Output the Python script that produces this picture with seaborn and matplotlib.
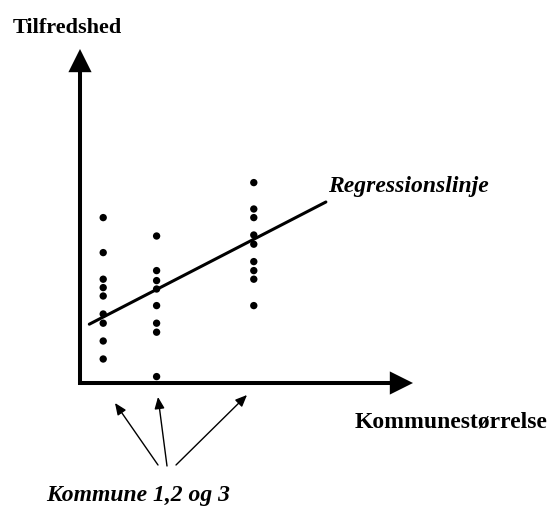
import numpy as np
import pandas as pd
import seaborn as sns
import matplotlib.pyplot as plt

# Kommunestørrelse for de tre kommuner (vilkårlig enhed)
kommune_size = [1.0, 2.0, 3.82]

# Tilfredshed for respondenter i hver kommune
tilfreds_k1 = [8.27, 6.52, 5.19, 4.77, 4.35, 3.45, 2.99, 2.10, 1.20]
tilfreds_k2 = [7.35, 5.62, 5.12, 4.70, 3.87, 2.99, 2.54, 0.32]
tilfreds_k3 = [10.02, 8.70, 8.27, 7.40, 6.94, 6.07, 5.62, 5.19, 3.87]

# Regressionslinjens endepunkter
reg_x = [0.74, 5.17]
reg_y = [2.94, 9.05]

rows = []
for size, vals in zip(kommune_size, [tilfreds_k1, tilfreds_k2, tilfreds_k3]):
    for v in vals:
        rows.append({"size": size, "tilfreds": v})
df = pd.DataFrame(rows)
reg = pd.DataFrame({"x": reg_x, "y": reg_y})

sns.set_style("white")
plt.rcParams["font.family"] = ["Liberation Serif", "DejaVu Serif"]
plt.rcParams["text.color"] = "black"

W, H = 548, 507
fig = plt.figure(figsize=(W / 100, H / 100), dpi=100)
ax = fig.add_axes([0, 0, 1, 1])

# pixel -> data helper for the layout pieces (axes arrows, labels)
x0, xs = 49.8, 53.4
y0, ys = 383.0, 20.0
def px(x, y):
    return ((x - x0) / xs, (y0 - y) / ys)

ax.set_xlim(px(0, 0)[0], px(W, 0)[0])
ax.set_ylim(px(0, H)[1], px(0, 0)[1])
ax.set_axis_off()

sns.scatterplot(data=df, x="size", y="tilfreds", ax=ax, color="black",
                s=28, edgecolor="none", legend=False, zorder=3)
sns.lineplot(data=reg, x="x", y="y", ax=ax, color="black", lw=2.2, zorder=2)
ax.set_xlabel("")
ax.set_ylabel("")

# axes arrows
big = dict(arrowstyle="-|>,head_length=0.6,head_width=0.3", lw=2.9,
           color="black", shrinkA=0, shrinkB=0, mutation_scale=20,
           capstyle="butt", joinstyle="miter")
ax.annotate("", xy=px(80, 49), xytext=px(80, 385), arrowprops=big)
ax.annotate("", xy=px(413, 383), xytext=px(78, 383), arrowprops=big)

# small arrows to the kommuner
small = dict(arrowstyle="-|>,head_length=0.7,head_width=0.3", lw=1.0,
             color="black", shrinkA=0, shrinkB=0, mutation_scale=10)
for tail, tip in [((158, 465), (115, 403)),
                  ((167, 466), (158, 397)),
                  ((176, 465), (247, 395))]:
    ax.annotate("", xy=px(*tip), xytext=px(*tail), arrowprops=small)

fs = 17
ax.text(*px(12.7, 33), "Tilfredshed", fontsize=16, fontweight="bold",
        color="black", ha="left", va="baseline")
ax.text(*px(328, 192), "Regressionslinje", fontsize=fs, fontweight="bold",
        fontstyle="italic", color="black", ha="left", va="baseline")
ax.text(*px(355, 428), "Kommunestørrelse", fontsize=fs, fontweight="bold",
        color="black", ha="left", va="baseline")
ax.text(*px(46, 501.5), "Kommune 1,2 og 3", fontsize=fs, fontweight="bold",
        fontstyle="italic", color="black", ha="left", va="baseline")

fig.savefig("out.png", dpi=100)
